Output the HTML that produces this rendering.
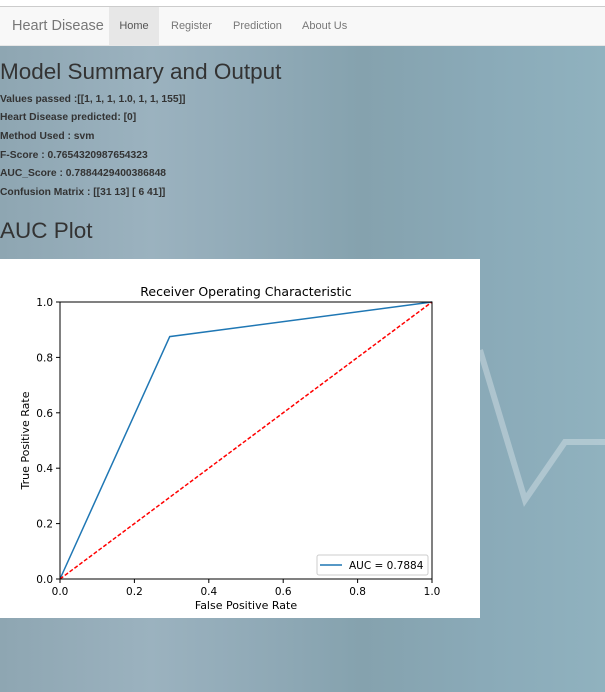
<!DOCTYPE html>
<html><head><meta charset="utf-8"><style>
body{margin:0;width:605px;height:692px;overflow:hidden;font-family:"Liberation Sans",Arial,sans-serif;position:relative;
background:linear-gradient(90deg,#8ea6b2 0%,#9bb2bf 25%,#8fa9b6 45%,#85a2ae 60%,#8aaab8 80%,#90b2bf 100%);}
#topstrip{position:absolute;left:0;top:0;width:605px;height:6px;background:#fff;border-bottom:1px solid #ccc;}
#nav{position:absolute;left:0;top:7px;width:605px;height:38px;background:#f8f8f8;border-bottom:1px solid #e7e7e7;}
#nav a{position:absolute;top:0;height:38px;line-height:39px;color:#777;text-decoration:none;font-size:11px;}
h1,h2{position:absolute;left:0;margin:0;font-weight:normal;color:#333;}
.info{position:absolute;left:0;font-size:10.3px;font-weight:bold;color:#333;}
</style></head><body>
<div id="topstrip"></div>
<svg style="position:absolute;left:0;top:0" width="605" height="692">
<polyline points="480,350 525,500 565,442 605,442" fill="none" stroke="rgba(255,255,255,0.3)" stroke-width="6"/>
</svg>
<div id="nav">
<a style="left:12px;font-size:14.5px;">Heart Disease</a>
<a style="left:109px;width:50px;text-align:center;background:#e7e7e7;color:#555;">Home</a>
<a style="left:171px;">Register</a>
<a style="left:233px;">Prediction</a>
<a style="left:302px;">About Us</a>
</div>
<h1 style="top:59px;font-size:22.5px;">Model Summary and Output</h1>
<div class="info" style="top:94px">Values passed :[[1, 1, 1, 1.0, 1, 1, 155]]</div>
<div class="info" style="top:112px">Heart Disease predicted: [0]</div>
<div class="info" style="top:131px">Method Used : svm</div>
<div class="info" style="top:150px">F-Score : 0.7654320987654323</div>
<div class="info" style="top:168px">AUC_Score : 0.7884429400386848</div>
<div class="info" style="top:187px">Confusion Matrix : [[31 13] [ 6 41]]</div>
<h2 style="top:218px;font-size:22.5px;">AUC Plot</h2>
<svg id="chart" style="position:absolute;left:0;top:259px" width="480" height="359"></svg>
<script>
const fpr=[0,0.295,1];
const tpr=[0,0.875,1];
const diagX=[0,1];
const diagY=[0,1];
const ticks=[0,0.2,0.4,0.6,0.8,1.0];
const tickLabels=["0.0","0.2","0.4","0.6","0.8","1.0"];
const legendLabel="AUC = 0.7884";
const NS="http://www.w3.org/2000/svg";
const svg=document.getElementById('chart');
const L=60,R=432,T=43,B=320;
const sx=v=>L+v*(R-L), sy=v=>B-v*(B-T);
function mk(t,a,p){const e=document.createElementNS(NS,t);for(const k in a)e.setAttribute(k,a[k]);(p||svg).appendChild(e);return e;}
const bg=mk('rect',{x:0,y:0,width:480,height:359,fill:'#fff'});


const title=mk('text',{x:(L+R)/2,y:37,'text-anchor':'middle','font-size':12.5,fill:'#000','font-family':'DejaVu Sans, sans-serif'});
title.textContent='Receiver Operating Characteristic';


ticks.forEach((t,i)=>{
 mk('line',{x1:sx(t),x2:sx(t),y1:B,y2:B+4,stroke:'#000'});
 const xl=mk('text',{x:sx(t),y:B+16,'text-anchor':'middle','font-size':10.5,'font-family':'DejaVu Sans, sans-serif',fill:'#000'});
 xl.textContent=tickLabels[i];
 
 
 mk('line',{x1:L-4,x2:L,y1:sy(t),y2:sy(t),stroke:'#000'});
 const yl=mk('text',{x:L-7,y:sy(t)+4,'text-anchor':'end','font-size':10.5,'font-family':'DejaVu Sans, sans-serif',fill:'#000'});
 yl.textContent=tickLabels[i];
 
 
});
const xt=mk('text',{x:(L+R)/2,y:B+30,'text-anchor':'middle','font-size':11,'font-family':'DejaVu Sans, sans-serif',fill:'#000'});
xt.textContent='False Positive Rate';


const yt=mk('text',{x:0,y:0,'text-anchor':'middle','font-size':11,'font-family':'DejaVu Sans, sans-serif',fill:'#000',transform:`translate(29,${(T+B)/2}) rotate(-90)`});
yt.textContent='True Positive Rate';


const roc=mk('polyline',{points:fpr.map((v,i)=>sx(v)+','+sy(tpr[i])).join(' '),fill:'none',stroke:'#1f77b4','stroke-width':1.5});


const dg=mk('polyline',{points:diagX.map((v,i)=>sx(v)+','+sy(diagY[i])).join(' '),fill:'none',stroke:'red','stroke-width':1.5,'stroke-dasharray':'4,2'});


const fr=mk('rect',{x:L,y:T,width:R-L,height:B-T,fill:'none',stroke:'#000','stroke-width':1});


const lg=mk('g',{});


mk('rect',{x:317,y:296,width:111,height:20,rx:2,fill:'#fff',stroke:'#ccc'},lg);
mk('line',{x1:320,x2:342,y1:306,y2:306,stroke:'#1f77b4','stroke-width':1.5},lg);
const lt=mk('text',{x:349,y:310,'font-size':10.5,'font-family':'DejaVu Sans, sans-serif',fill:'#000'},lg);
lt.textContent=legendLabel;
</script>
</body></html>
